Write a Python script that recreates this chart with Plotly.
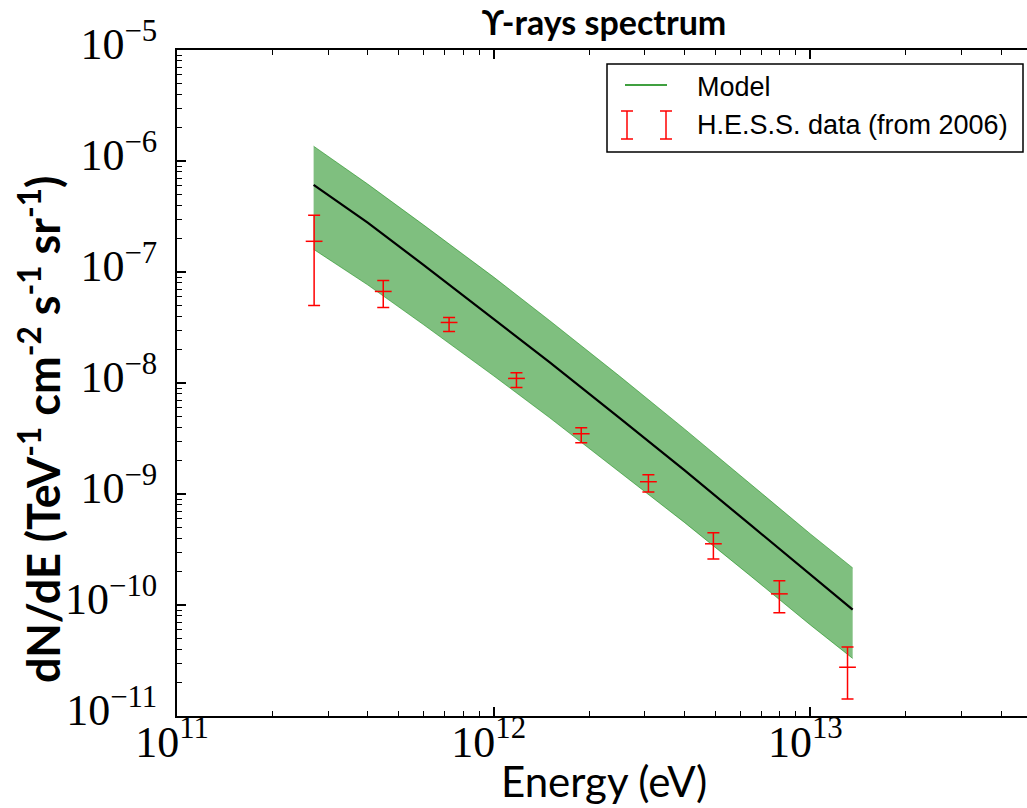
import plotly.graph_objects as go

# ---- data ----
hess_energy = [2.71e11, 4.48e11, 7.23e11, 1.18e12, 1.89e12, 3.08e12, 4.94e12, 7.98e12, 1.31e13]
hess_flux = [1.89e-7, 6.68e-8, 3.51e-8, 1.10e-8, 3.49e-9, 1.29e-9, 3.56e-10, 1.26e-10, 2.75e-11]
hess_upper = [3.24e-7, 8.4e-8, 3.89e-8, 1.24e-8, 3.95e-9, 1.49e-9, 4.47e-10, 1.65e-10, 4.18e-11]
hess_lower = [5.0e-8, 4.8e-8, 2.91e-8, 9.1e-9, 2.90e-9, 1.04e-9, 2.60e-10, 8.5e-11, 1.42e-11]

model_energy = [2.7e11, 4e11, 6e11, 1e12, 1.5e12, 2.5e12, 4e12, 6.5e12, 1e13, 1.36e13]
model_flux = [6.1e-7, 2.78e-7, 1.16e-7, 3.80e-8, 1.54e-8, 4.83e-9, 1.64e-9, 5.21e-10, 1.86e-10, 9.1e-11]
model_upper = [1.36e-6, 6.2e-7, 2.66e-7, 9.0e-8, 3.66e-8, 1.15e-8, 3.86e-9, 1.22e-9, 4.37e-10, 2.16e-10]
model_lower = [1.60e-7, 7.66e-8, 3.36e-8, 1.16e-8, 4.88e-9, 1.58e-9, 5.55e-10, 1.81e-10, 6.61e-11, 3.30e-11]

x_tickvals = [1e11, 1e12, 1e13]
x_ticktext = ["10<sup>11</sup>", "10<sup>12</sup>", "10<sup>13</sup>"]
y_tickvals = [1e-5, 1e-6, 1e-7, 1e-8, 1e-9, 1e-10, 1e-11]
y_ticktext = ["10<sup>−5</sup>", "10<sup>−6</sup>", "10<sup>−7</sup>", "10<sup>−8</sup>",
              "10<sup>−9</sup>", "10<sup>−10</sup>", "10<sup>−11</sup>"]

title_text = "ϒ-rays spectrum"
x_label = "Energy (eV)"
y_label = "dN/dE (TeV<sup>-1</sup> cm<sup>-2</sup> s<sup>-1</sup> sr<sup>-1</sup>)"
legend_labels = ["Model", "H.E.S.S. data (from 2006)"]

# ---- figure ----
W, H = 1027, 808
L, R, T, B = 177, 0, 50, 92
pw, ph = W - L - R, H - T - B


def px(xp):
    return (xp - L) / pw


def py(yp):
    return (H - B - yp) / ph


fig = go.Figure()

band_col = "rgba(0,128,0,0.5)"
fig.add_trace(go.Scatter(x=model_energy, y=model_lower, mode="lines",
                         line=dict(color=band_col, width=1),
                         showlegend=False, hoverinfo="skip"))
fig.add_trace(go.Scatter(x=model_energy, y=model_upper, mode="lines", fill="tonexty",
                         fillcolor=band_col, line=dict(color=band_col, width=1),
                         showlegend=False, hoverinfo="skip"))
fig.add_trace(go.Scatter(x=model_energy, y=model_flux, mode="lines",
                         line=dict(color="black", width=2.2),
                         showlegend=False))

err_plus = [u - f for u, f in zip(hess_upper, hess_flux)]
err_minus = [f - l for f, l in zip(hess_flux, hess_lower)]
fig.add_trace(go.Scatter(
    x=hess_energy, y=hess_flux, mode="markers",
    marker=dict(symbol="line-ew", size=12, color="red", line=dict(color="red", width=1.5)),
    error_y=dict(type="data", symmetric=False, array=err_plus, arrayminus=err_minus,
                 color="red", thickness=1.5, width=6),
    showlegend=False))

minor_x = [m * 10 ** e for e in range(11, 14) for m in range(2, 10)]
minor_y = [m * 10.0 ** e for e in range(-11, -5) for m in range(2, 10)]

tick_font = dict(family="Liberation Serif, DejaVu Serif, serif", size=44, color="black")

fig.update_xaxes(type="log", range=[11, 13.684], tickvals=x_tickvals, ticktext=x_ticktext,
                 ticks="inside", ticklen=9, tickwidth=1.5, tickcolor="black",
                 showline=True, linecolor="black", linewidth=2, mirror="allticks",
                 showgrid=False, zeroline=False, tickfont=tick_font,
                 ticklabelstandoff=-14, ticklabelshift=-5,
                 minor=dict(tickvals=minor_x, ticks="inside", ticklen=5, tickwidth=1,
                            tickcolor="black", showgrid=False))
fig.update_yaxes(type="log", range=[-11, -5], tickvals=y_tickvals, ticktext=y_ticktext,
                 ticks="inside", ticklen=9, tickwidth=1.5, tickcolor="black",
                 showline=True, linecolor="black", linewidth=2, mirror=False,
                 showgrid=False, zeroline=False, tickfont=tick_font,
                 ticklabelstandoff=9, ticklabelshift=-6,
                 minor=dict(tickvals=minor_y, ticks="inside", ticklen=5, tickwidth=1,
                            tickcolor="black", showgrid=False))

shapes = []
# legend box
shapes.append(dict(type="rect", xref="paper", yref="paper", x0=px(607), x1=px(1023),
                   y0=py(152), y1=py(64), line=dict(color="black", width=1.5),
                   fillcolor="white", layer="above"))
shapes.append(dict(type="line", xref="paper", yref="paper", x0=px(625), x1=px(667),
                   y0=py(85), y1=py(85), line=dict(color="green", width=1.5)))
for cx in (627, 666):
    shapes.append(dict(type="line", xref="paper", yref="paper", x0=px(cx), x1=px(cx),
                       y0=py(111), y1=py(139), line=dict(color="red", width=1.5)))
    for cy in (111, 139):
        shapes.append(dict(type="line", xref="paper", yref="paper", x0=px(cx - 6), x1=px(cx + 6),
                           y0=py(cy), y1=py(cy), line=dict(color="red", width=1.5)))

legend_font = dict(family="Liberation Sans, Arial, sans-serif", size=27, color="black")
annotations = [
    dict(text=legend_labels[0], xref="paper", yref="paper", x=px(695), y=py(87),
         xanchor="left", yanchor="middle", showarrow=False, font=legend_font),
    dict(text=legend_labels[1], xref="paper", yref="paper", x=px(695), y=py(125),
         xanchor="left", yanchor="middle", showarrow=False, font=legend_font),
    dict(text=x_label, xref="paper", yref="paper", x=px(604), y=py(781),
         xanchor="center", yanchor="middle", showarrow=False,
         font=dict(family="Lato, Open Sans, sans-serif", size=42, color="black")),
    dict(text="<b>" + y_label + "</b>", xref="paper", yref="paper", x=px(40), y=py(430),
         xanchor="center", yanchor="middle", showarrow=False, textangle=-90,
         font=dict(family="Lato, Open Sans, sans-serif", size=45, color="black")),
]

fig.update_layout(
    width=W, height=H,
    margin=dict(l=L, r=R, t=T, b=B),
    paper_bgcolor="white", plot_bgcolor="white",
    showlegend=False,
    title=dict(text="<b>" + title_text + "</b>", x=604 / W, xanchor="center",
               y=1 - 23 / H, yanchor="middle",
               font=dict(family="Lato, Open Sans, sans-serif", size=34, color="black")),
    shapes=shapes,
    annotations=annotations,
)

fig.write_html("out.html", config={"displayModeBar": False},
               post_script="document.body.style.margin='0';document.body.style.overflow='hidden';")
